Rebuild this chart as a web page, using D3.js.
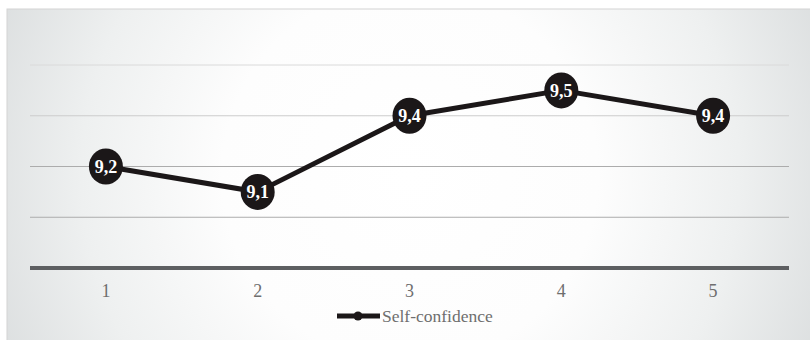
<!DOCTYPE html>
<html>
<head>
<meta charset="utf-8">
<script src="https://cdn.jsdelivr.net/npm/d3@7"></script>
<style>
  html, body { margin: 0; padding: 0; background: #ffffff; }
  svg { display: block; }
</style>
</head>
<body>
<svg id="chart" width="810" height="340"></svg>
<script>
// Survey scores per wave
const categories = ["1", "2", "3", "4", "5"];
const values = [9.2, 9.1, 9.4, 9.5, 9.4];
const valueLabels = ["9,2", "9,1", "9,4", "9,5", "9,4"];
const gridValues = [8.8, 9.0, 9.2, 9.4, 9.6];
const seriesName = "Self-confidence";

const FONT = "'Liberation Serif', 'Times New Roman', Times, serif";
const svg = d3.select("#chart");
const frame = { x: 7, y: 9, w: 806, h: 334 };
const plot = { left: 30, right: 789, top: 65, bottom: 268 };

// Soft radial background: white middle fading to grey at the sides
const defs = svg.append("defs");
const grad = defs.append("radialGradient")
  .attr("id", "bg")
  .attr("gradientUnits", "userSpaceOnUse")
  .attr("cx", 410).attr("cy", 175).attr("r", 470)
  .attr("fx", 410).attr("fy", 175);
grad.append("stop").attr("offset", "0%").attr("stop-color", "#ffffff");
grad.append("stop").attr("offset", "40%").attr("stop-color", "#fdfdfd");
grad.append("stop").attr("offset", "70%").attr("stop-color", "#eef0f0");
grad.append("stop").attr("offset", "100%").attr("stop-color", "#d8dbdc");

svg.append("rect")
  .attr("x", frame.x).attr("y", frame.y)
  .attr("width", frame.w).attr("height", frame.h)
  .attr("fill", "url(#bg)")
  .attr("stroke", "#d4d4d4").attr("stroke-width", 1);

const x = d3.scaleBand().domain(categories).range([plot.left, plot.right]);
const y = d3.scaleLinear().domain([8.8, 9.6]).range([plot.bottom, plot.top]);

// Horizontal gridlines
svg.append("g").selectAll("line")
  .data(gridValues.filter(v => v !== 8.8))
  .join("line")
  .attr("x1", plot.left).attr("x2", plot.right)
  .attr("y1", d => y(d)).attr("y2", d => y(d))
  .attr("stroke", d => d >= 9.6 ? "#dadada" : (d >= 9.4 ? "#cccccc" : "#acacac"))
  .attr("stroke-width", 1);

// Category axis along the baseline
const xAxis = svg.append("g")
  .attr("transform", `translate(0,${plot.bottom})`)
  .call(d3.axisBottom(x).tickSize(0).tickPadding(16));
xAxis.select(".domain").remove();
svg.append("line")
  .attr("x1", plot.left).attr("x2", plot.right)
  .attr("y1", plot.bottom).attr("y2", plot.bottom)
  .attr("stroke", "#5d5f61").attr("stroke-width", 4);
xAxis.selectAll("text")
  .attr("font-family", FONT)
  .attr("font-size", 18)
  .attr("fill", "#6e6e6e");

// Series line
const cx = d => x(d.cat) + x.bandwidth() / 2;
const pts = categories.map((c, i) => ({ cat: c, v: values[i], label: valueLabels[i] }));
svg.append("path")
  .datum(pts)
  .attr("fill", "none")
  .attr("stroke", "#1b1718")
  .attr("stroke-width", 5)
  .attr("stroke-linejoin", "round")
  .attr("d", d3.line().x(cx).y(d => y(d.v)));

// Markers with value labels
const mk = svg.append("g").selectAll("g").data(pts).join("g")
  .attr("transform", d => `translate(${cx(d)},${y(d.v)})`);
mk.append("ellipse")
  .attr("rx", 17).attr("ry", 18)
  .attr("fill", "#1b1718");
mk.append("text")
  .attr("text-anchor", "middle")
  .attr("dy", "0.35em")
  .attr("font-family", FONT)
  .attr("font-weight", "bold")
  .attr("font-size", 18)
  .attr("fill", "#ffffff")
  .text(d => d.label);

// Legend
const lg = svg.append("g").attr("transform", "translate(337,316)");
lg.append("line").attr("x1", 0).attr("x2", 43).attr("y1", 0).attr("y2", 0)
  .attr("stroke", "#1b1718").attr("stroke-width", 5);
lg.append("circle").attr("cx", 21).attr("cy", 0).attr("r", 4.5).attr("fill", "#1b1718");
lg.append("text")
  .attr("x", 45).attr("y", 0).attr("dy", "0.35em")
  .attr("font-family", FONT)
  .attr("font-size", 17.5)
  .attr("fill", "#6e6e6e")
  .text(seriesName);
</script>
</body>
</html>
